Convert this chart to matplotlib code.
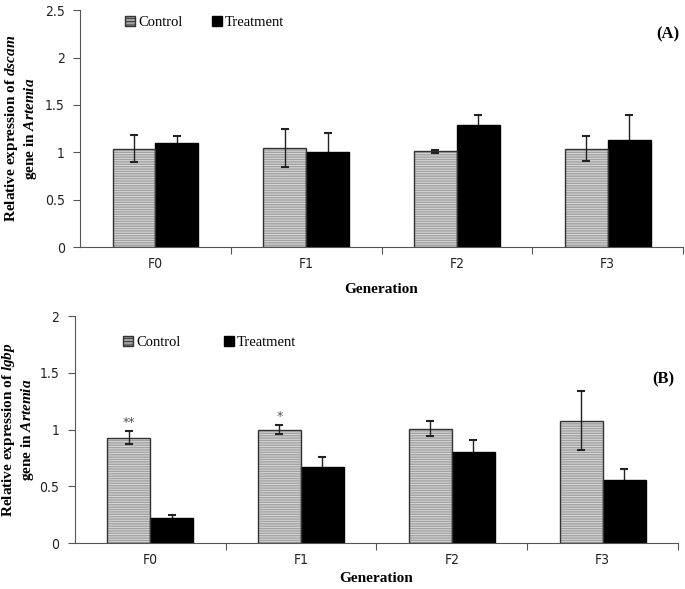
import matplotlib
matplotlib.use("Agg")
import matplotlib.pyplot as plt
import numpy as np
from matplotlib.patches import Patch

plt.rcParams['mathtext.fontset'] = 'custom'
plt.rcParams['mathtext.rm'] = 'Liberation Serif:bold'
plt.rcParams['mathtext.it'] = 'Liberation Serif:bold:italic'
plt.rcParams['mathtext.bf'] = 'Liberation Serif:bold'
plt.rcParams['hatch.linewidth'] = 0.7

generations = ["F0", "F1", "F2", "F3"]

dscam_control = [1.04, 1.05, 1.01, 1.04]
dscam_control_err = [0.14, 0.20, 0.015, 0.13]
dscam_treatment = [1.10, 1.00, 1.29, 1.13]
dscam_treatment_err = [0.07, 0.20, 0.10, 0.26]

lgbp_control = [0.93, 1.00, 1.01, 1.08]
lgbp_control_err = [0.055, 0.04, 0.065, 0.26]
lgbp_treatment = [0.22, 0.67, 0.80, 0.56]
lgbp_treatment_err = [0.03, 0.09, 0.11, 0.09]

lgbp_marks = ["**", "*", "", ""]

SERIF = 'Liberation Serif'
TICKFONT = dict(family='DejaVu Sans', stretch='condensed', fontsize=10, color='#222222')

fig = plt.figure(figsize=(6.85, 5.89), dpi=100)
axA = fig.add_axes([0.117, 0.5806, 0.880, 0.402])
axB = fig.add_axes([0.109, 0.078, 0.881, 0.385])

w = 0.285
axis_col = '#555555'
ctrl_face = '#a2a2a2'
ctrl_hatch = '#dadada'


def draw(ax, ctrl, cerr, trt, terr, ymax, ystep, ylabel_gene, panel, panel_y, xpad, marks=None):
    x = np.arange(len(generations))
    ax.bar(x - w / 2, ctrl, w, color=ctrl_face, edgecolor=ctrl_hatch, hatch='-------', linewidth=0, zorder=2)
    ax.bar(x - w / 2, ctrl, w, fill=False, edgecolor='#333333', linewidth=1.0, zorder=3)
    ax.errorbar(x - w / 2, ctrl, yerr=cerr, fmt='none', ecolor='#222222', elinewidth=1.0, capsize=3, capthick=1.5, zorder=4)
    ax.bar(x + w / 2, trt, w, color='black', edgecolor='black', linewidth=1.0, zorder=2)
    ax.errorbar(x + w / 2, trt, yerr=terr, fmt='none', ecolor='#222222', elinewidth=1.0, capsize=3, capthick=1.5, zorder=1)
    if marks:
        for xi, v, e, m in zip(x, ctrl, cerr, marks):
            if m:
                ax.text(xi - w / 2, v + e + 0.08, m, ha='center', va='center', fontsize=9, color='#555555', family='DejaVu Sans')
    ax.set_xlim(-0.5, 3.5)
    ax.set_ylim(0, ymax)
    yt = np.arange(0, ymax + 1e-9, ystep)
    ax.set_yticks(yt)
    ax.set_yticklabels([f"{v:g}" for v in yt], **TICKFONT)
    ax.set_xticks([0.5, 1.5, 2.5, 3.5])
    ax.set_xticklabels([])
    ax.set_xticks(np.arange(4), minor=True)
    ax.set_xticklabels(generations, minor=True, **TICKFONT)
    ax.tick_params(axis='x', which='minor', length=0, pad=7)
    ax.tick_params(axis='x', which='major', length=5, direction='out', color=axis_col)
    ax.tick_params(axis='y', length=5, direction='out', color=axis_col, pad=6)
    for s in ['top', 'right']:
        ax.spines[s].set_visible(False)
    for s in ['left', 'bottom']:
        ax.spines[s].set_color(axis_col)
    ax.set_xlabel("Generation", family=SERIF, fontweight='bold', fontsize=11, labelpad=xpad)
    ax.set_ylabel("Relative expression of $" + ylabel_gene + "$\ngene in $Artemia$",
                  family=SERIF, fontweight='bold', fontsize=11, linespacing=1.15)
    ax.text(0.975, panel_y, panel, transform=ax.transAxes, ha='center', va='center',
            family=SERIF, fontweight='bold', fontsize=12)
    handles = [Patch(facecolor=ctrl_face, edgecolor='#333333', hatch='-----', label='Control'),
               Patch(facecolor='black', edgecolor='black', label='Treatment')]
    return handles


hA = draw(axA, dscam_control, dscam_control_err, dscam_treatment, dscam_treatment_err,
          2.5, 0.5, "dscam", "(A)", 0.9, 9)
axA.legend(handles=hA, loc='upper left', bbox_to_anchor=(0.053, 1.03), ncol=2, frameon=False,
           prop={'family': SERIF, 'size': 10.5}, handlelength=0.7, handleheight=0.7,
           handletextpad=0.2, columnspacing=2.0)
hB = draw(axB, lgbp_control, lgbp_control_err, lgbp_treatment, lgbp_treatment_err,
          2.0, 0.5, "lgbp", "(B)", 0.72, 4, marks=lgbp_marks)
axB.legend(handles=hB, loc='upper left', bbox_to_anchor=(0.058, 0.97), ncol=2, frameon=False,
           prop={'family': SERIF, 'size': 10.5}, handlelength=0.7, handleheight=0.7,
           handletextpad=0.2, columnspacing=3.0)
axA.yaxis.set_label_coords(-0.068, 0.5)
axB.yaxis.set_label_coords(-0.064, 0.5)

fig.savefig("out.png", dpi=100)
